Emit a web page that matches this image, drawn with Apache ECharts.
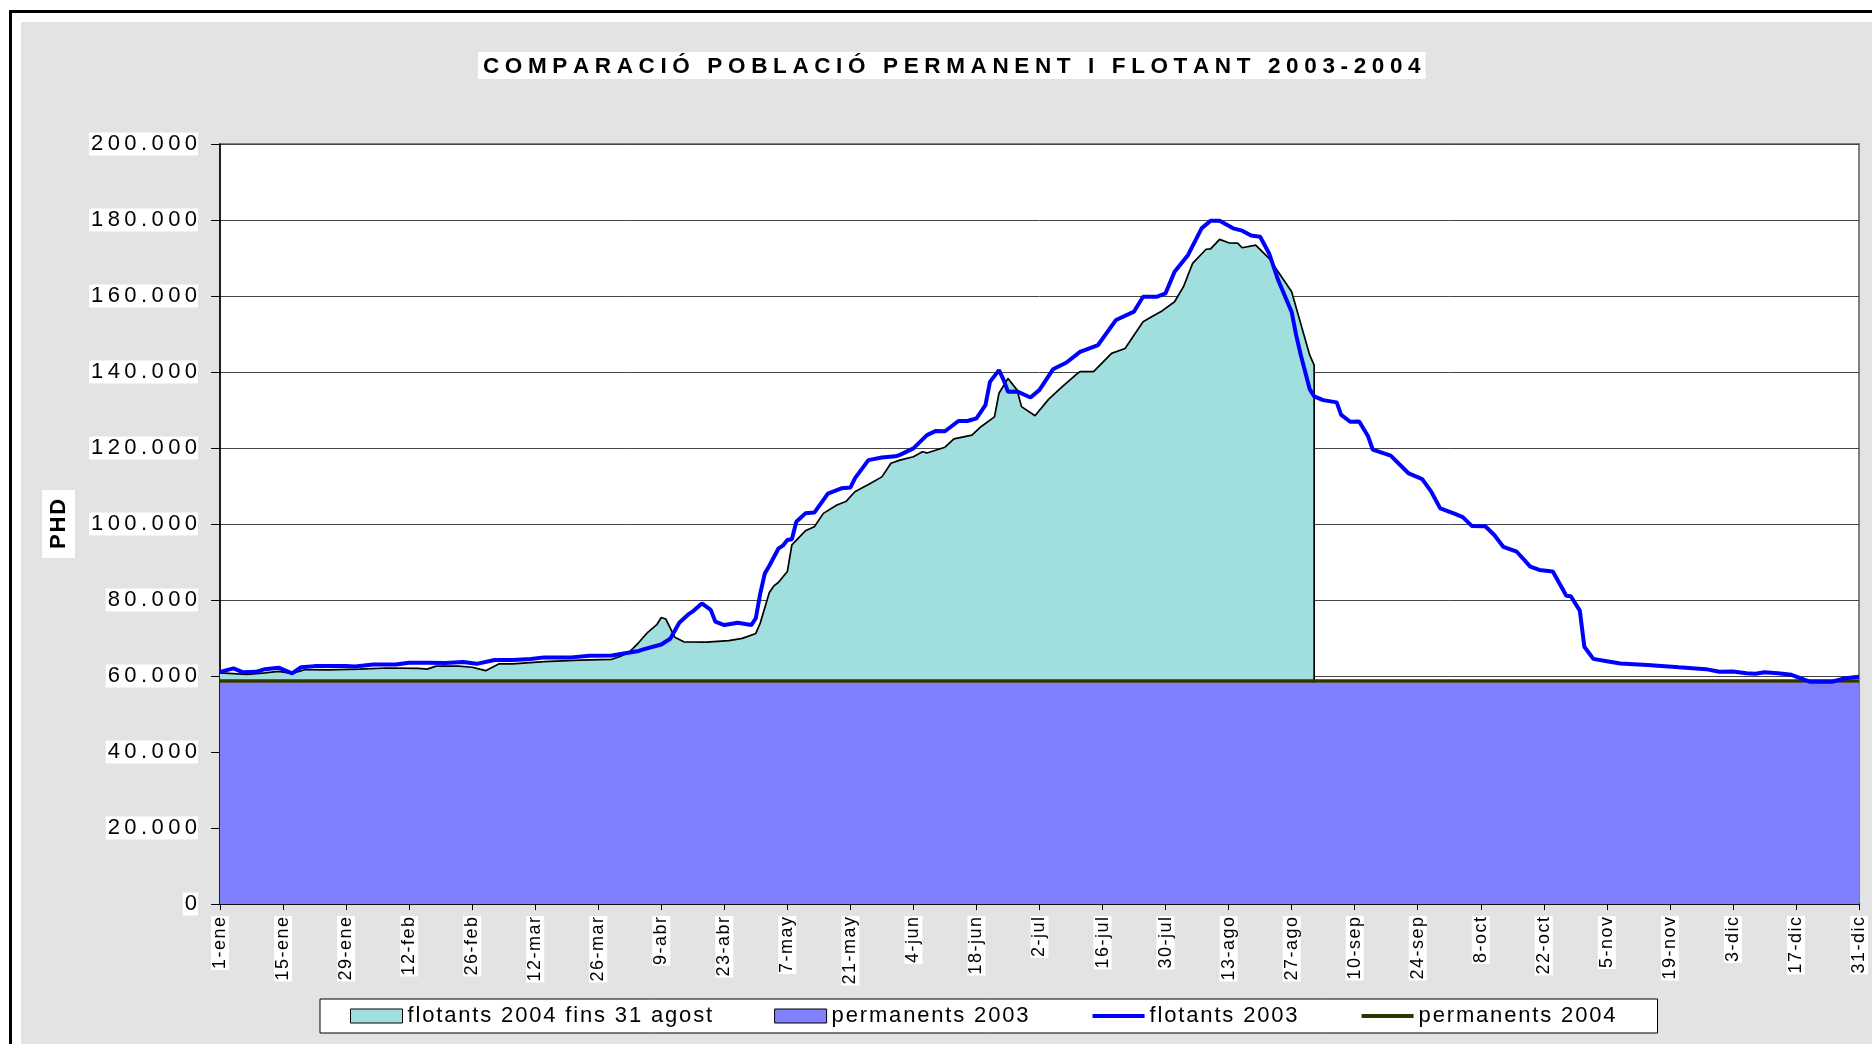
<!DOCTYPE html>
<html><head><meta charset="utf-8">
<script src="https://cdn.jsdelivr.net/npm/echarts@6/dist/echarts.min.js"></script>
<style>html,body{margin:0;padding:0;background:#fff}#c{width:1872px;height:1044px}</style>
</head><body><div id="c"></div>
<script>
const chartTitle = 'COMPARACIÓ POBLACIÓ PERMANENT I FLOTANT 2003-2004';
const yAxisName = 'PHD';
const xTickLabels = ['1-ene','15-ene','29-ene','12-feb','26-feb','12-mar','26-mar','9-abr','23-abr','7-may','21-may','4-jun','18-jun','2-jul','16-jul','30-jul','13-ago','27-ago','10-sep','24-sep','8-oct','22-oct','5-nov','19-nov','3-dic','17-dic','31-dic'];
const yTickLabels = ['0','20.000','40.000','60.000','80.000','100.000','120.000','140.000','160.000','180.000','200.000'];
const seriesNames = ['flotants 2004 fins 31 agost','permanents 2003','flotants 2003','permanents 2004'];

// [day of year (0 = 1-ene), value]
const flotants2004 = [[0,60800],[3,60600],[6,60400],[10,60800],[13,61200],[16,60700],[19,61700],[24,61600],[31,61800],[37,62100],[44,62000],[46,61800],[48,62600],[53,62600],[56,62300],[59,61400],[62,63200],[65,63200],[72,63800],[80,64200],[87,64400],[89,65200],[91,66400],[93,68800],[95,71500],[97,73500],[98,75400],[99,75000],[100,72600],[101,70200],[103,69000],[108,68900],[113,69300],[116,69900],[119,71200],[120,74000],[122,82000],[123,83700],[124,84600],[126,87500],[127,94500],[130,98200],[132,99300],[134,102800],[137,105000],[139,105900],[141,108500],[144,110400],[147,112400],[149,116000],[151,116800],[154,117700],[156,119000],[157,118700],[161,120200],[163,122400],[167,123400],[169,125600],[172,128200],[173,134400],[175,138300],[177,135300],[178,130900],[181,128500],[184,132800],[187,136100],[190,139200],[191,140100],[194,140100],[198,144900],[201,146200],[205,153200],[207,154600],[209,155900],[212,158500],[214,162500],[216,168600],[219,172300],[220,172400],[222,174900],[224,174000],[226,173900],[227,172700],[230,173400],[233,169900],[235,166400],[238,161100],[240,152800],[242,144500],[243,141800],[243,0]];
const permanents2003 = [[0,58300],[364,58300]];
const flotants2003 = [[0,61100],[3,62000],[5,61000],[8,61100],[10,61800],[13,62200],[16,60700],[18,62300],[21,62600],[28,62600],[30,62500],[34,63000],[39,63000],[42,63500],[46,63500],[50,63400],[54,63700],[57,63200],[61,64200],[65,64200],[69,64500],[72,64900],[78,64900],[82,65300],[87,65400],[90,66000],[93,66600],[94,67000],[98,68300],[100,69800],[102,74000],[104,76200],[105,77000],[107,79100],[109,77400],[110,74300],[112,73400],[115,74000],[118,73400],[119,75200],[120,81800],[121,87000],[122,89000],[124,93500],[125,94300],[126,95800],[127,96000],[128,100600],[130,102800],[132,103000],[135,108000],[138,109400],[140,109600],[141,112000],[144,116800],[147,117500],[150,117800],[151,118200],[154,119900],[157,123400],[159,124500],[161,124400],[164,127100],[166,127100],[168,127800],[170,131300],[171,137400],[173,140500],[174,138000],[175,134800],[177,134900],[180,133300],[182,135300],[185,140700],[188,142500],[191,145300],[195,147100],[199,153700],[203,155900],[205,159800],[208,159800],[210,160700],[212,166400],[215,170800],[218,177800],[220,179800],[222,179800],[225,177800],[227,177200],[229,175900],[231,175600],[233,171200],[235,164200],[238,155800],[239,149700],[240,144600],[242,135500],[243,133600],[245,132600],[248,132000],[249,128700],[251,126900],[253,127000],[255,123000],[256,119600],[260,118000],[264,113300],[267,111800],[269,108500],[271,104100],[274,102800],[276,101800],[278,99500],[281,99400],[283,97100],[285,94000],[288,92700],[291,88800],[293,87900],[296,87500],[299,81100],[300,81000],[302,77200],[303,67700],[305,64500],[308,63900],[311,63300],[317,62900],[324,62300],[330,61800],[333,61100],[336,61200],[339,60700],[341,60600],[343,61000],[346,60700],[349,60300],[353,58500],[358,58500],[361,59400],[364,59800]];
const permanents2004 = [[0,58700],[364,58700]];

const FONT = "'Liberation Sans', Arial, sans-serif";
const sp = (s, g) => Array.from(s).join(g);

const chart = echarts.init(document.getElementById('c'), null, {renderer: 'canvas'});
chart.setOption({
  animation: false,
  backgroundColor: '#E3E3E3',
  textStyle: {fontFamily: FONT},
  title: {
    text: sp(chartTitle, '\u2005'),
    left: 478, top: 52,
    padding: [3, 5, 1, 5],
    backgroundColor: '#fff',
    textStyle: {fontSize: 22.5, fontWeight: 'bold', color: '#000', fontFamily: FONT}
  },
  graphic: [
    {type: 'rect', silent: true, shape: {x: 0, y: 0, width: 1872, height: 22}, style: {fill: '#fff'}},
    {type: 'rect', silent: true, shape: {x: 0, y: 0, width: 21, height: 1044}, style: {fill: '#fff'}},
    {type: 'rect', silent: true, shape: {x: 9, y: 10, width: 1863, height: 3}, style: {fill: '#000'}},
    {type: 'rect', silent: true, shape: {x: 9, y: 10, width: 3, height: 1034}, style: {fill: '#000'}}
  ],
  legend: {
    left: 320, top: 999,
    padding: [6, 42, 6, 30],
    backgroundColor: '#fff', borderColor: '#000', borderWidth: 1,
    itemGap: 62, itemWidth: 52, itemHeight: 14,
    selectedMode: false,
    formatter: n => sp(n, '\u200A'),
    textStyle: {fontSize: 22, color: '#000', fontFamily: FONT},
    data: [
      {name: seriesNames[0], icon: 'rect', itemStyle: {color: '#A1DFDF', borderColor: '#000', borderWidth: 1}},
      {name: seriesNames[1], icon: 'rect', itemStyle: {color: '#8080FF', borderColor: '#000', borderWidth: 1}},
      {name: seriesNames[2], itemStyle: {opacity: 0}, lineStyle: {color: '#0000FF', width: 4}},
      {name: seriesNames[3], itemStyle: {opacity: 0}, lineStyle: {color: '#333300', width: 4}}
    ]
  },
  grid: {left: 220, right: 13, top: 144, bottom: 140, show: true, backgroundColor: '#fff', borderColor: '#808080', borderWidth: 2, containLabel: false, outerBoundsMode: 'none'},
  xAxis: {
    type: 'value', min: 0, max: 364, interval: 14,
    axisLine: {show: true, onZero: false, lineStyle: {color: '#000', width: 1.5}},
    axisTick: {show: true, length: 6, lineStyle: {color: '#000'}},
    splitLine: {show: false},
    axisLabel: {
      rotate: 90, margin: 12, fontSize: 18, color: '#000', fontFamily: FONT,
      backgroundColor: '#fff', padding: [0, 1],
      showMinLabel: true, showMaxLabel: true, hideOverlap: false,
      formatter: v => sp(xTickLabels[Math.round(v / 14)] || '', '\u200A')
    }
  },
  yAxis: {
    type: 'value', min: 0, max: 200000, interval: 20000,
    name: sp(yAxisName, '\u200A'), nameLocation: 'middle', nameRotate: 90, nameGap: 145,
    nameTextStyle: {fontSize: 22, fontWeight: 'bold', color: '#000', backgroundColor: '#fff', padding: [6, 9, 5, 9], fontFamily: FONT},
    axisLine: {show: true, lineStyle: {color: '#000', width: 1.5}},
    axisTick: {show: true, length: 9, lineStyle: {color: '#000'}},
    splitLine: {show: true, lineStyle: {color: '#444', width: 1}},
    axisLabel: {
      margin: 22, fontSize: 22, color: '#000', fontFamily: FONT,
      backgroundColor: '#fff', padding: [1, 1, 0, 2],
      formatter: v => sp(yTickLabels[Math.round(v / 20000)] || '', '\u2009')
    }
  },
  series: [
    {name: seriesNames[0], type: 'line', data: flotants2004, symbol: 'none', z: 2,
     itemStyle: {color: '#A1DFDF'}, lineStyle: {color: '#000', width: 1.7},
     areaStyle: {color: '#A1DFDF', opacity: 1}},
    {name: seriesNames[1], type: 'line', data: permanents2003, symbol: 'none', z: 3,
     itemStyle: {color: '#8080FF'}, lineStyle: {color: '#8080FF', width: 0},
     areaStyle: {color: '#8080FF', opacity: 1}},
    {name: seriesNames[3], type: 'line', data: permanents2004, symbol: 'none', z: 4,
     itemStyle: {color: '#333300'}, lineStyle: {color: '#333300', width: 3.5}},
    {name: seriesNames[2], type: 'line', data: flotants2003, symbol: 'none', z: 5,
     itemStyle: {color: '#0000FF'}, lineStyle: {color: '#0000FF', width: 4}}
  ]
});
</script></body></html>
